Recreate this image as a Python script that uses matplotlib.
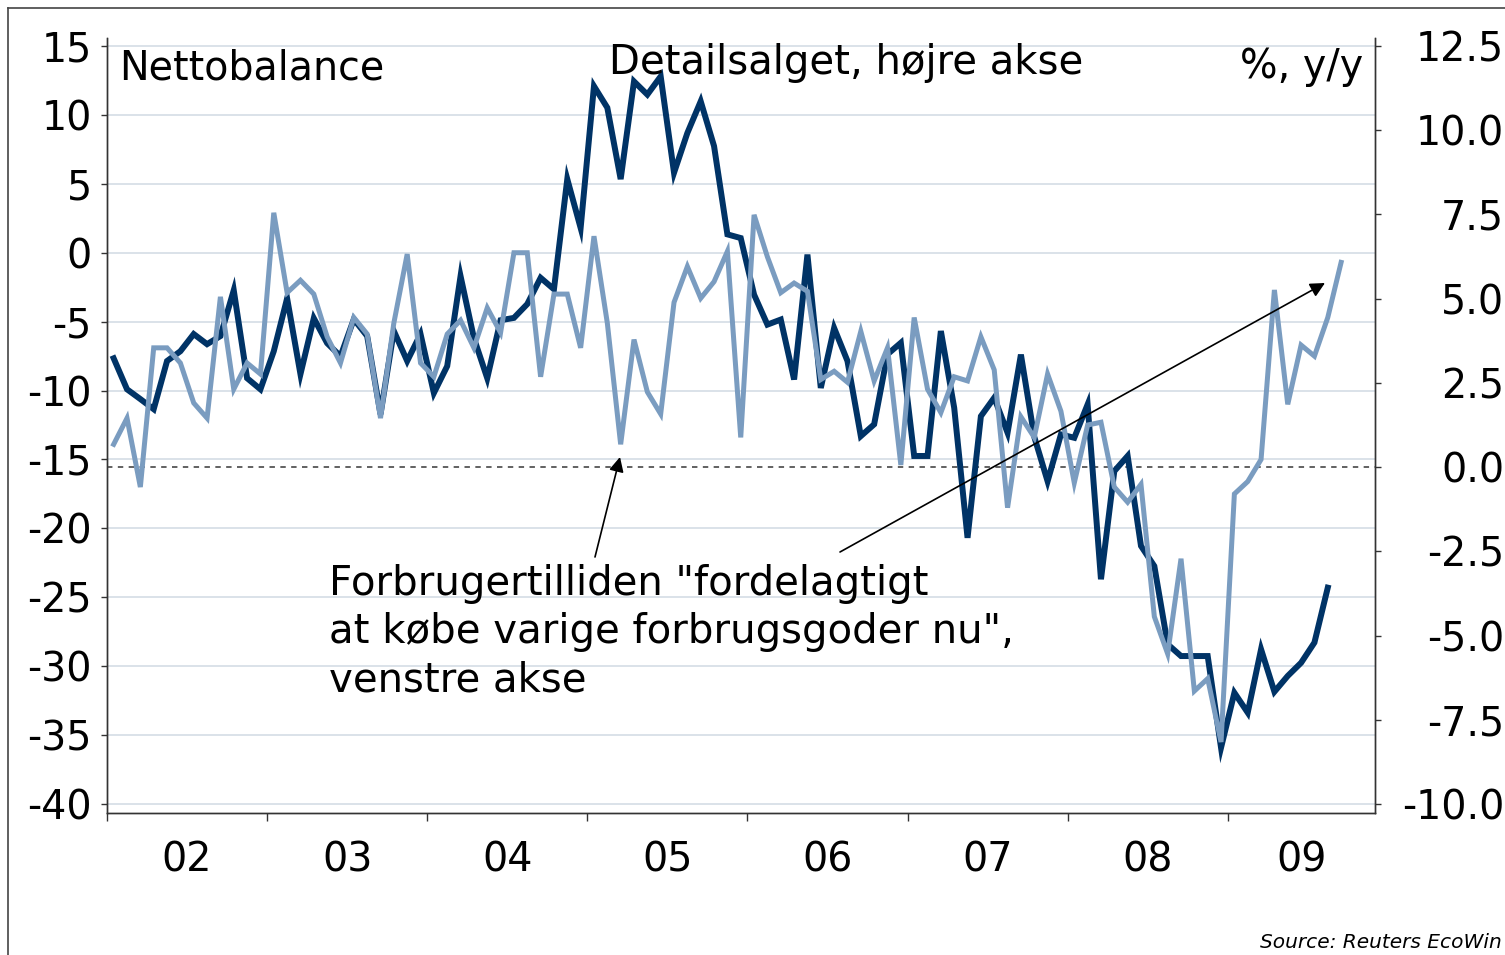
import matplotlib
matplotlib.use("Agg")
import matplotlib.pyplot as plt
import numpy as np
from matplotlib.lines import Line2D
from matplotlib.patches import FancyArrowPatch
from matplotlib.ticker import FixedLocator, NullFormatter, FixedFormatter

# ---------------- data ----------------
start_year = 2002
# Forbrugertillid, "fordelagtigt at købe varige forbrugsgoder nu" (nettobalance, left axis), monthly from Jan 2002
confidence = [
    -13.9, -12.0, -17.0, -6.9, -6.9, -8.0, -10.9, -12.0, -3.2, -9.9, -8.0, -8.8,   # 2002
    2.9, -2.9, -2.0, -3.0, -6.1, -8.0, -4.7, -5.9, -12.0, -5.1, -0.1, -8.0,        # 2003
    -9.0, -5.9, -4.9, -6.9, -4.0, -5.8, 0.0, 0.0, -9.0, -3.0, -3.0, -6.9,          # 2004
    1.2, -5.1, -13.9, -6.3, -10.1, -11.7, -3.6, -1.0, -3.3, -2.1, 0.1, -13.4,      # 2005
    2.75, -0.3, -2.9, -2.2, -2.8, -9.2, -8.6, -9.4, -5.7, -9.3, -6.9, -15.4,       # 2006
    -4.7, -9.9, -11.6, -9.0, -9.3, -6.1, -8.5, -18.5, -11.9, -13.4, -8.8, -11.5,   # 2007
    -16.7, -12.5, -12.3, -17.0, -18.1, -16.8, -26.4, -29.1, -22.2, -31.8, -30.9, -35.5,  # 2008
    -17.5, -16.6, -15.0, -2.7, -11.0, -6.7, -7.5, -4.7, -0.7,                      # 2009
]
# Detailsalget, % y/y (right axis), monthly from Jan 2002
retail = [
    3.23, 2.31, 2.02, 1.72, 3.15, 3.44, 3.95, 3.65, 3.89, 5.25, 2.64, 2.31,        # 2002
    3.44, 5.01, 2.76, 4.42, 3.68, 3.29, 4.39, 3.89, 1.57, 4.04, 3.15, 3.95,        # 2003
    2.20, 3.00, 5.67, 3.83, 2.64, 4.36, 4.43, 4.84, 5.62, 5.28, 8.55, 7.10,        # 2004
    11.31, 10.67, 8.55, 11.45, 11.06, 11.60, 8.74, 9.92, 10.86, 9.53, 6.91, 6.80,  # 2005
    5.12, 4.23, 4.38, 2.60, 6.31, 2.35, 4.13, 3.15, 0.92, 1.27, 3.35, 3.69,        # 2006
    0.33, 0.33, 4.04, 1.76, -2.10, 1.51, 2.06, 1.02, 3.34, 0.90, -0.42, 0.97,      # 2007
    0.87, 1.86, -3.33, -0.12, 0.33, -2.34, -2.94, -5.26, -5.61, -5.61, -5.61, -8.33,  # 2008
    -6.70, -7.29, -5.41, -6.67, -6.20, -5.81, -5.21, -3.58,                        # 2009
]
year_labels = ["02", "03", "04", "05", "06", "07", "08", "09"]
left_ticks = [-40, -35, -30, -25, -20, -15, -10, -5, 0, 5, 10, 15]
right_ticks = [-10.0, -7.5, -5.0, -2.5, 0.0, 2.5, 5.0, 7.5, 10.0, 12.5]

# ---------------- style ----------------
DARK = "#003366"
LIGHT = "#7a9cc0"
GRID = "#dbe2e9"
SPINE = "#333333"
FS = 28.5

W, H = 1505, 955
fig = plt.figure(figsize=(W / 100, H / 100), dpi=100)
fig.patch.set_facecolor("white")

def fx(px):
    return px / W

def fy(py):
    return 1 - py / H

ax = fig.add_axes([fx(107), fy(813), fx(1375) - fx(107), fy(38) - fy(813)])
ax2 = ax.twinx()

x_conf = start_year + (np.arange(len(confidence)) + 0.5) / 12
x_ret = start_year + (np.arange(len(retail)) + 0.5) / 12

xmax = 2009.92
ax.set_xlim(2002, xmax)
ax.set_ylim(-40.65, 15.58)
ax2.set_ylim(-10.27, 12.74)

# grid (left axis)
ax.set_yticks(left_ticks)
ax.yaxis.grid(True, color=GRID, lw=1.4)
ax.set_axisbelow(True)

# zero line of right axis
ax2.axhline(0, color="#555555", lw=1.3, ls=(0, (3, 3)), zorder=1)

# lines: dark on right axis, light (left axis scale) drawn on top
ax2.plot(x_ret, retail, color=DARK, lw=4.3, solid_joinstyle="miter", zorder=2)
ax2.plot(x_conf, confidence, color=LIGHT, lw=3.6, solid_joinstyle="miter",
         transform=ax.transData, zorder=3)
ax2.set_ylim(-10.27, 12.74)
ax2.set_xlim(2002, xmax)

# spines
for a in (ax, ax2):
    a.spines["top"].set_visible(False)
    for s in ("left", "right", "bottom"):
        a.spines[s].set_color(SPINE)
        a.spines[s].set_linewidth(1.0)

# left ticks
ax.tick_params(axis="y", which="major", length=4, width=1, color=SPINE,
               labelsize=FS, pad=7, direction="out")
ax.set_yticklabels([f"{v:d}" for v in left_ticks])

# right ticks
ax2.set_yticks(right_ticks)
ax2.set_yticklabels([f"{v:.1f}" for v in right_ticks])
ax2.tick_params(axis="y", which="major", length=4, width=1, color=SPINE,
                labelsize=FS, pad=89, direction="out")
for lab in ax2.get_yticklabels():
    lab.set_horizontalalignment("right")

# x axis: year boundary ticks, labels centred between them
years = list(range(2002, 2010))
ax.xaxis.set_major_locator(FixedLocator(years))
ax.xaxis.set_major_formatter(NullFormatter())
label_pos = [y + 0.5 for y in years[:-1]] + [(years[-1] + xmax) / 2]
ax.xaxis.set_minor_locator(FixedLocator(label_pos))
ax.xaxis.set_minor_formatter(FixedFormatter(year_labels))
ax.tick_params(axis="x", which="major", length=6, width=1, color=SPINE, direction="out")
ax.tick_params(axis="x", which="minor", length=0, labelsize=FS, pad=20)

# ---------------- texts ----------------
fig.text(fx(119), fy(79), "Nettobalance", fontsize=FS, ha="left", va="baseline")
fig.text(fx(609), fy(74), "Detailsalget, højre akse", fontsize=28.9, ha="left", va="baseline")
fig.text(fx(1363), fy(78), "%, y/y", fontsize=FS, ha="right", va="baseline")

ann_lines = ['Forbrugertilliden "fordelagtigt',
             'at købe varige forbrugsgoder nu",',
             'venstre akse']
ann_baselines = [595, 643, 691]
for line, yb in zip(ann_lines, ann_baselines):
    fig.text(fx(329), fy(yb), line, fontsize=29, ha="left", va="baseline")

arrow_kw = dict(arrowstyle="-|>", color="black", lw=1.2, mutation_scale=22,
                shrinkA=0, shrinkB=0)
fig.add_artist(FancyArrowPatch(
    (fx(595), fy(557)), (fx(620), fy(457)), transform=fig.transFigure, **arrow_kw))
fig.add_artist(FancyArrowPatch(
    (fx(840), fy(552)), (fx(1325), fy(283)), transform=fig.transFigure, **arrow_kw))

fig.text(fx(1502), fy(948), "Source: Reuters EcoWin", fontsize=14.5, style="italic",
         ha="right", va="baseline")

# figure frame (left and top edges)
fig.add_artist(Line2D([fx(8), fx(8)], [0, fy(8)], color="#444444", lw=1.2,
                      transform=fig.transFigure))
fig.add_artist(Line2D([fx(8), 1], [fy(8), fy(8)], color="#444444", lw=1.2,
                      transform=fig.transFigure))

fig.savefig("out.png", dpi=100)
